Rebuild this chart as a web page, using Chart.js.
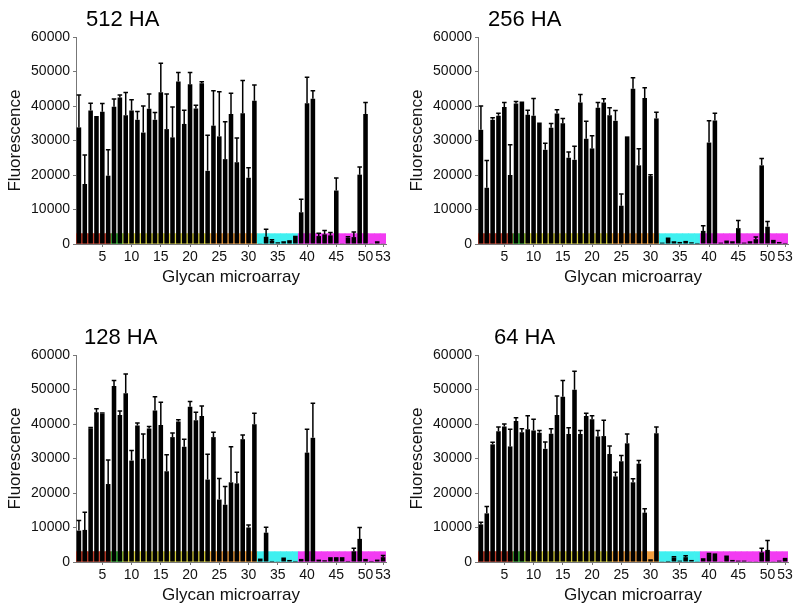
<!DOCTYPE html>
<html>
<head>
<meta charset="utf-8">
<script src="https://cdn.jsdelivr.net/npm/chart.js@4.4.1/dist/chart.umd.min.js"></script>
<style>
  html, body { margin: 0; padding: 0; background: #fff; }
  #wrap { position: relative; width: 800px; height: 611px; overflow: hidden; }
  .panel { position: absolute; width: 400px; height: 305px; }
</style>
</head>
<body>
<div id="wrap">
  <div class="panel" style="left:0;top:0"><canvas id="c512" width="400" height="305"></canvas></div>
  <div class="panel" style="left:402px;top:0"><canvas id="c256" width="400" height="305"></canvas></div>
  <div class="panel" style="left:0;top:318px"><canvas id="c128" width="400" height="305"></canvas></div>
  <div class="panel" style="left:402px;top:318px"><canvas id="c64" width="400" height="305"></canvas></div>
</div>
<script>
// --- Data ---
const glycans = [1, 2, 3, 4, 5, 6, 7, 8, 9, 10, 11, 12, 13, 14, 15, 16, 17, 18, 19, 20,
  21, 22, 23, 24, 25, 26, 27, 28, 29, 30, 31, 32, 33, 34, 35, 36, 37, 38, 39, 40,
  41, 42, 43, 44, 45, 46, 47, 48, 49, 50, 51, 52, 53];
const tickLabels = [5, 10, 15, 20, 25, 30, 35, 40, 45, 50, 53];

// last glycan number of each class (coloured strip under the bars)
const classLast = [6, 8, 23, 31, 38, 53];
const classColors = ['#c23d2a', '#3cc43c', '#d2cc3c', '#f2a040', '#3ff0f0', '#f23cf2'];
const classStrip = 3000;

const ha512 = [33800, 17400, 38700, 37100, 38300, 19800, 39800, 42500, 37300, 38700,
  36000, 32300, 39200, 36000, 44000, 33300, 30900, 47100, 34800, 46300,
  39300, 46600, 21200, 34300, 31200, 24600, 37700, 23700, 37900, 19200,
  41500, 200, 2100, 900, 500, 800, 1100, 2400, 9200, 40800,
  42100, 2300, 2800, 2500, 15500, 200, 1800, 2000, 20100, 37700,
  200, 800, 100];
const ha512Sd = [9400, 8400, 2100, 0, 2400, 7500, 2200, 700, 6600, 3100,
  2400, 7700, 4300, 2100, 8400, 10200, 8800, 2600, 4000, 3400,
  900, 400, 10300, 10100, 12900, 10800, 6000, 7000, 9500, 2900,
  4600, 0, 2200, 300, 0, 0, 0, 0, 3800, 7500,
  2300, 800, 1100, 800, 3600, 0, 300, 1500, 2200, 3300,
  0, 0, 0];

const ha256 = [33100, 16300, 36000, 37200, 39700, 20000, 40700, 40900, 37500, 37200,
  34800, 27300, 33700, 37800, 35000, 25000, 24400, 41000, 30500, 27700,
  39500, 41000, 37300, 35700, 11100, 31200, 45000, 22800, 42300, 19700,
  36400, 400, 1500, 800, 600, 900, 500, 300, 3800, 29400,
  35800, 400, 1000, 800, 4600, 400, 800, 1400, 22800, 5000,
  1200, 600, 300];
const ha256Sd = [6900, 7900, 600, 700, 1300, 8800, 600, 200, 1300, 5000,
  200, 1900, 1200, 1100, 1400, 1700, 3900, 2300, 5100, 3700,
  1500, 1100, 2200, 3000, 3400, 0, 3200, 4800, 3000, 400,
  1800, 0, 200, 0, 0, 0, 0, 0, 1500, 6300,
  2100, 0, 0, 0, 2200, 0, 0, 600, 2000, 1500,
  0, 0, 0];

const ha128 = [9100, 9300, 38800, 43400, 43000, 22600, 51000, 42600, 48900, 29400,
  39600, 29900, 38700, 43900, 39700, 26300, 36200, 40700, 33400, 45000,
  41100, 42300, 23900, 36200, 18100, 16600, 23100, 22800, 35600, 10000,
  39900, 1000, 8500, 300, 200, 1300, 600, 300, 900, 31700,
  36000, 700, 500, 1400, 1400, 1400, 300, 3100, 6700, 900,
  300, 700, 1400];
const ha128Sd = [2900, 5100, 200, 1000, 200, 7000, 1600, 1200, 5600, 2900,
  700, 7200, 600, 4000, 6600, 4800, 1200, 500, 2200, 1500,
  2300, 2900, 7300, 1400, 6100, 5300, 10300, 3200, 1200, 700,
  3200, 0, 1600, 0, 0, 0, 0, 0, 0, 6800,
  10000, 0, 0, 0, 0, 0, 0, 900, 3300, 0,
  0, 0, 500];

const ha64 = [10900, 14100, 34100, 37900, 39300, 33500, 40900, 37600, 38500, 38100,
  37500, 32800, 37200, 42600, 47900, 37100, 49900, 37100, 42300, 41400,
  36400, 36500, 31300, 24800, 29200, 34400, 23100, 28500, 14300, 800,
  37300, 200, 300, 1300, 400, 1400, 600, 200, 1100, 2300,
  2500, 200, 1500, 600, 400, 400, 200, 200, 2800, 3500,
  200, 400, 1200];
const ha64Sd = [600, 2000, 600, 1200, 700, 5000, 900, 1000, 3900, 3300,
  600, 2000, 1400, 5500, 4700, 1800, 5400, 1000, 800, 1000,
  1700, 4600, 2300, 1200, 1700, 2700, 1000, 900, 1100, 0,
  1800, 0, 0, 200, 0, 400, 0, 0, 0, 200,
  0, 0, 200, 0, 0, 0, 0, 0, 1200, 2700,
  0, 0, 0];

// --- Helpers ---
Chart.defaults.font.family = '"Liberation Sans", Arial, sans-serif';
Chart.defaults.color = '#111';

const stripColors = glycans.map(g => classColors[classLast.findIndex(last => g <= last)]);
const stripData = glycans.map(() => classStrip);

const errorBars = {
  id: 'errorBars',
  afterDatasetsDraw(chart) {
    const ds = chart.data.datasets[1];
    const meta = chart.getDatasetMeta(1);
    const y = chart.scales.y;
    const ctx = chart.ctx;
    ctx.save();
    ctx.strokeStyle = '#000';
    ctx.lineWidth = 1.5;
    meta.data.forEach((bar, i) => {
      const sd = ds.errors[i];
      if (!sd) return;
      const yTop = y.getPixelForValue(ds.data[i] + sd);
      const half = bar.width / 2;
      ctx.beginPath();
      ctx.moveTo(bar.x, bar.y);
      ctx.lineTo(bar.x, yTop);
      ctx.moveTo(bar.x - half, yTop);
      ctx.lineTo(bar.x + half, yTop);
      ctx.stroke();
    });
    ctx.restore();
  }
};

const panelTitle = {
  id: 'panelTitle',
  afterDraw(chart, args, opts) {
    const ctx = chart.ctx;
    ctx.save();
    ctx.font = '22px "Liberation Sans", Arial, sans-serif';
    ctx.fillStyle = '#000';
    ctx.textBaseline = 'alphabetic';
    ctx.fillText(opts.text, chart.chartArea.left + opts.dx, 26);
    ctx.restore();
  }
};

const makePanel = (id, title, values, errors, titleDx) => {
  new Chart(document.getElementById(id), {
    type: 'bar',
    data: {
      labels: glycans,
      datasets: [
        { label: 'class', data: stripData, backgroundColor: stripColors,
          barPercentage: 1, categoryPercentage: 1, grouped: false, order: 2 },
        { label: title, data: values, errors: errors, backgroundColor: '#000',
          barPercentage: 0.78, categoryPercentage: 1, grouped: false, order: 1 }
      ]
    },
    options: {
      responsive: false,
      animation: false,
      layout: { padding: { top: 37, right: 14, bottom: 0, left: 0 } },
      plugins: {
        legend: { display: false },
        tooltip: { enabled: false },
        panelTitle: { text: title, dx: titleDx }
      },
      scales: {
        x: {
          grid: { drawOnChartArea: false, offset: false, tickLength: 3, color: '#777' },
          border: { color: '#777' },
          ticks: {
            autoSkip: false, maxRotation: 0, padding: 2, font: { size: 14 },
            callback: (v, i) => tickLabels.includes(glycans[i]) ? String(glycans[i]) : null
          },
          title: { display: true, text: 'Glycan microarray', font: { size: 17 },
                   padding: { top: 0, bottom: 17 } },
          afterFit: (s) => { s.height = 61; }
        },
        y: {
          min: 0, max: 60000,
          grid: { drawOnChartArea: false, tickLength: 3, color: '#777' },
          border: { color: '#777' },
          ticks: { stepSize: 10000, padding: 3, font: { size: 14 }, callback: (v) => String(v) },
          title: { display: true, text: 'Fluorescence', font: { size: 17 },
                   padding: { top: 5, bottom: 0 } },
          afterFit: (s) => { s.width = 76; }
        }
      }
    },
    plugins: [errorBars, panelTitle]
  });
};

makePanel('c512', '512 HA', ha512, ha512Sd, 10);
makePanel('c256', '256 HA', ha256, ha256Sd, 10);
makePanel('c128', '128 HA', ha128, ha128Sd, 8);
makePanel('c64', '64 HA', ha64, ha64Sd, 16);
</script>
</body>
</html>
